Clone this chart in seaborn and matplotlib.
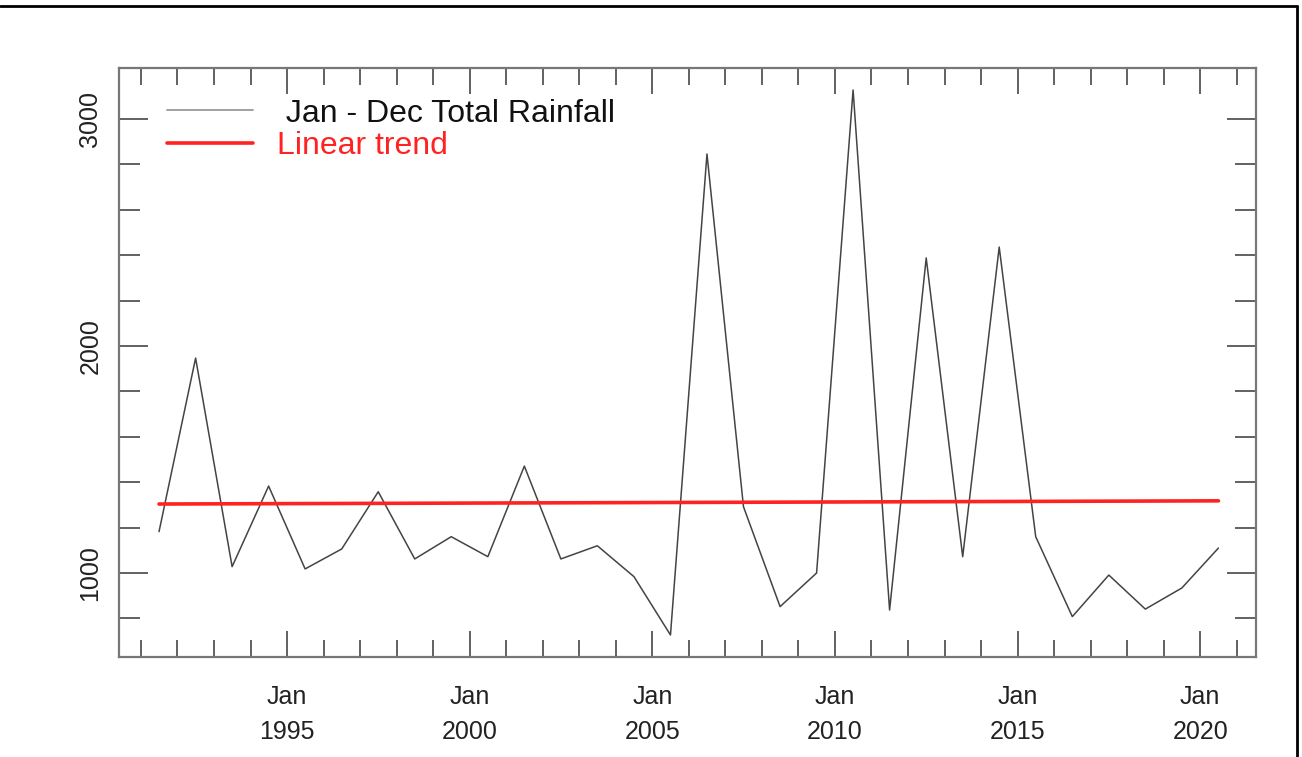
import numpy as np
import pandas as pd
import matplotlib
matplotlib.use("Agg")
import matplotlib.pyplot as plt
import matplotlib.dates as mdates
from matplotlib.lines import Line2D
from matplotlib.ticker import FixedLocator
import seaborn as sns

# annual Jan-Dec totals, plotted at mid-year
years = list(range(1991, 2021))
rainfall = [1182, 1947, 1028, 1383, 1018, 1106, 1358, 1062, 1160, 1072,
            1471, 1062, 1120, 984, 727, 2846, 1292, 852, 1000, 3128,
            837, 2388, 1072, 2436, 1160, 808, 991, 841, 934, 1110]
trend_years = [1991, 2020]
trend_values = [1304, 1318]
labels = ["Jan - Dec Total Rainfall", "Linear trend"]

sns.set_theme(style="white")
plt.rcParams["font.family"] = ["Liberation Sans", "DejaVu Sans"]

df = pd.DataFrame({"date": pd.to_datetime([f"{y}-07-01" for y in years]),
                   "rain": rainfall})
trend = pd.DataFrame({"date": pd.to_datetime([f"{y}-07-01" for y in trend_years]),
                      "rain": trend_values})

fig = plt.figure(figsize=(13.02, 7.57), dpi=100)
ax = fig.add_axes([0.0914, 0.1321, 0.8733, 0.7781])

sns.lineplot(data=df, x="date", y="rain", ax=ax, color="#444444", linewidth=1.1)
sns.lineplot(data=trend, x="date", y="rain", ax=ax, color="#ff2222", linewidth=2.6)

ax.set_xlim(pd.Timestamp("1990-05-27"), pd.Timestamp("2021-07-12"))
ax.set_ylim(630, 3225)
ax.set_xlabel("")
ax.set_ylabel("")

ax.xaxis.set_major_locator(mdates.YearLocator(5))
ax.xaxis.set_minor_locator(mdates.YearLocator(1))
ax.xaxis.set_major_formatter(mdates.DateFormatter("%b\n%Y"))
ax.yaxis.set_major_locator(FixedLocator([1000, 2000, 3000]))
ax.yaxis.set_minor_locator(FixedLocator([800, 1200, 1400, 1600, 1800, 2200, 2400, 2600, 2800]))

for s in ax.spines.values():
    s.set_color("#777777")
    s.set_linewidth(1.6)

ax.tick_params(which="both", direction="in", top=True, right=True, bottom=True, left=True,
               color="#555555", width=1.3, labelcolor="#222222")
ax.tick_params(axis="x", which="major", length=19, pad=20, labelsize=18)
ax.tick_params(axis="x", which="minor", length=12)
ax.tick_params(axis="y", which="major", length=21, pad=12, labelsize=18)
ax.tick_params(axis="y", which="minor", length=15)
for t in ax.get_yticklabels():
    t.set_rotation(90)
    t.set_va("center")
for t in ax.get_xticklabels():
    t.set_linespacing(1.6)

handles = [Line2D([], [], color="#999999", linewidth=1.3),
           Line2D([], [], color="#ff2222", linewidth=2.6)]
leg = ax.legend(handles, [" " + labels[0], labels[1]], loc="upper left",
                bbox_to_anchor=(0.042, 0.948), frameon=False, fontsize=23,
                handlelength=2.7, handletextpad=0.75, labelspacing=0.08,
                borderpad=0, borderaxespad=0)
leg.get_texts()[0].set_color("#111111")
leg.get_texts()[1].set_color("#ff2222")

# frame lines along the top and right edge of the image
fig.add_artist(Line2D([0.0, 0.9965], [0.9925, 0.9925], color="black", linewidth=2,
                      transform=fig.transFigure))
fig.add_artist(Line2D([0.9965, 0.9965], [0.0, 0.9925], color="black", linewidth=2,
                      transform=fig.transFigure))

fig.savefig("out.png", dpi=100)
